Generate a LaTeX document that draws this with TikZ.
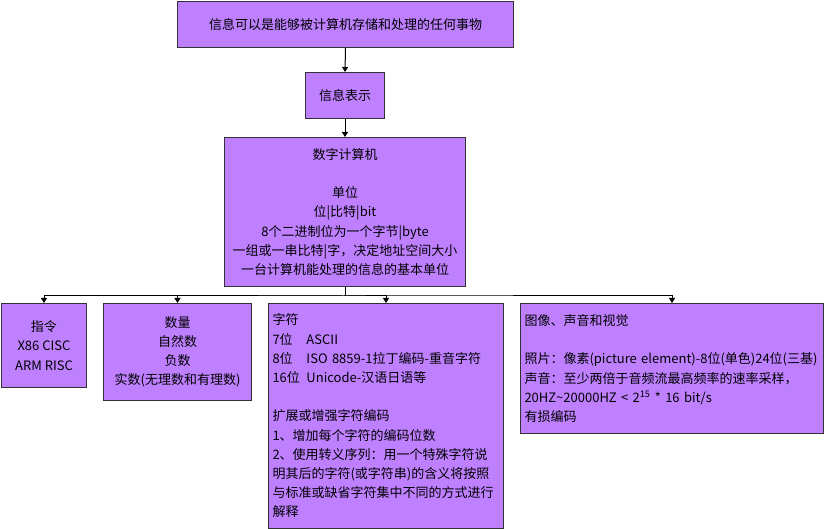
\documentclass[tikz,border=0pt]{standalone}
\usepackage{fontspec}
\setmainfont{Noto Sans CJK SC}
\usetikzlibrary{arrows.meta}
\newlength{\du}
\setlength{\du}{1pt}

\begin{document}
\begin{tikzpicture}[
  infobox/.style={draw=boxline,fill=boxfill,line width=1\du,rectangle,anchor=north west,inner sep=0pt,align=center,font=\fontsize{13}{19.2}\selectfont},
  leftbox/.style={infobox,align=left,inner xsep=4\du},
  flowarrow/.style={-{Triangle[width=6pt,length=5pt]},line width=1\du,draw=black}
]
\pgftransformxscale{1.000000}
\pgftransformyscale{-1.000000}
\definecolor{boxfill}{rgb}{0.749020, 0.501961, 1.000000}
\definecolor{boxline}{rgb}{0.200000, 0.200000, 0.200000}
\useasboundingbox (0\du,0\du) rectangle (825\du,529\du);
% top chain
\node[infobox,minimum width=336\du,minimum height=46\du] (info) at (177\du,1\du){信息可以是能够被计算机存储和处理的任何事物};
\node[infobox,minimum width=79\du,minimum height=46\du] (repr) at (305\du,72\du){信息表示};
\node[infobox,minimum width=241\du,minimum height=149\du] (comp) at (224\du,137\du){数字计算机\\[19.2\du]单位\\位|比特|bit\\8个二进制位为一个字节|byte\\一组或一串比特|字，决定地址空间大小\\一台计算机能处理的信息的基本单位};
% bottom row
\node[infobox,minimum width=85\du,minimum height=84\du] (instr) at (1\du,303\du){指令\\X86 CISC\\ARM RISC};
\node[infobox,minimum width=148\du,minimum height=97\du] (qty) at (103\du,303\du){数量\\自然数\\负数\\实数(无理数和有理数)};
\node[leftbox,text width=227\du,minimum height=225\du] (chars) at (268\du,303\du){字符\\
\makebox[34\du][l]{7位}ASCII\\
\makebox[34\du][l]{8位}ISO 8859-1拉丁编码-重音字符\\
\makebox[34\du][l]{16位}Unicode-汉语日语等\\[19.2\du]
扩展或增强字符编码\\
1、增加每个字符的编码位数\\
2、使用转义序列：用一个特殊字符说\\
明其后的字符(或字符串)的含义将按照\\
与标准或缺省字符集中不同的方式进行\\
解释};
\node[leftbox,text width=295\du,minimum height=130\du] (media) at (520\du,303\du){图像、声音和视觉\\[19.2\du]
照片：像素(picture~element)-8位(单色)24位(三基)\\
声音：至少两倍于音频流最高频率的速率采样，\\
20HZ\textasciitilde20000HZ~<~2\textsuperscript{15}~*~16~bit/s\\
有损编码};
% connectors
\draw[flowarrow] (info.south) -- (repr.north);
\draw[flowarrow] (repr.south) -- (comp.north);
\coordinate (bus) at (344.5\du,296\du);
\foreach \target in {instr,qty,chars,media}
  \draw[flowarrow] (comp.south) |- (bus) -| (\target.north);
\end{tikzpicture}
\end{document}
